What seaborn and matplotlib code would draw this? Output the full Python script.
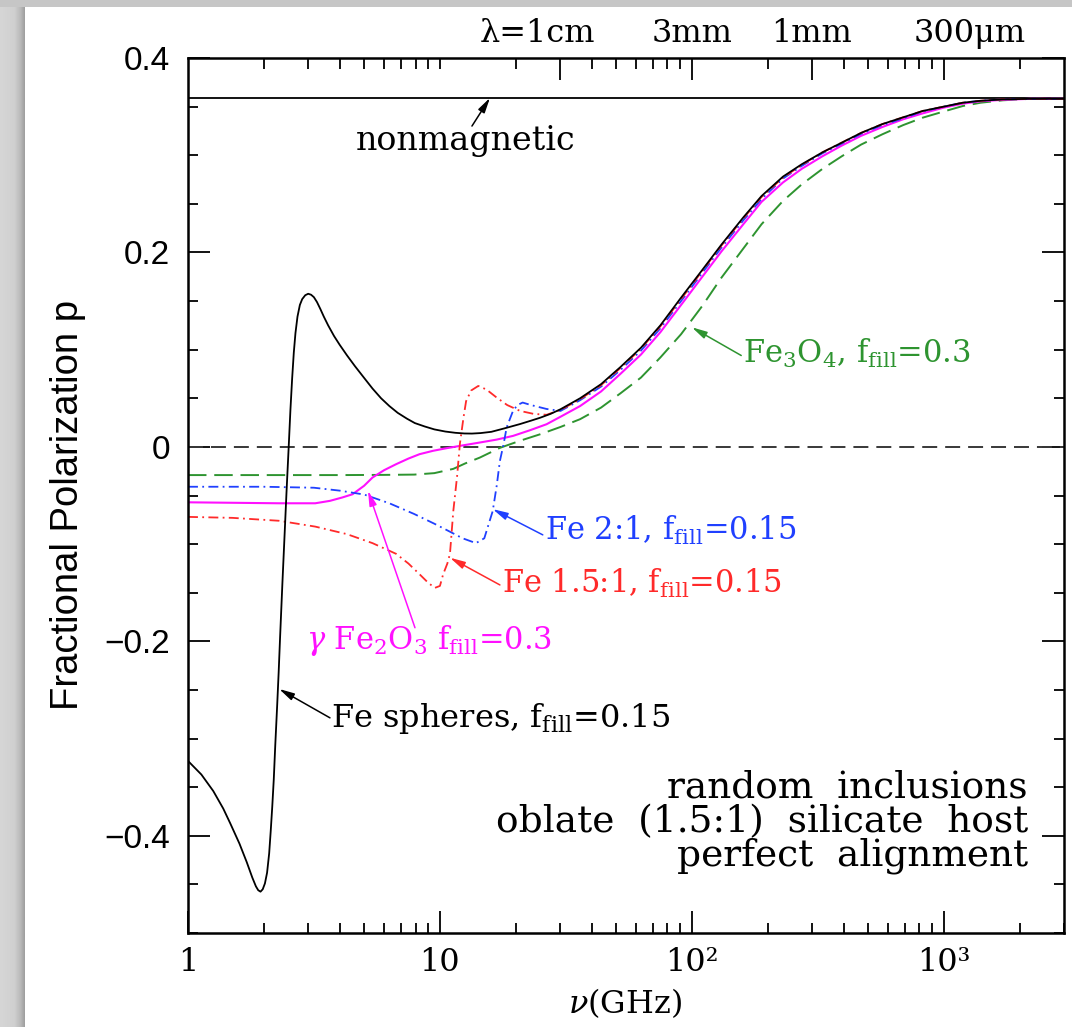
import numpy as np
import pandas as pd
import matplotlib
matplotlib.use("Agg")
import matplotlib.pyplot as plt
from matplotlib.patches import Rectangle
from matplotlib.ticker import FixedLocator, FixedFormatter, LogLocator, MultipleLocator, NullFormatter
import seaborn as sns

# ---------------- data: frequency (GHz) and fractional polarization ----------------
nu_nonmag = [1.0, 3000.0]
p_nonmag = [0.359, 0.359]

nu_fe_sph = [1.0, 1.13, 1.26, 1.38, 1.47, 1.6, 1.71, 1.8, 1.86, 1.9, 1.94, 1.98, 2.02,
             2.06, 2.10, 2.13, 2.16, 2.19, 2.22, 2.26, 2.29, 2.32, 2.37, 2.42, 2.46, 2.51,
             2.55, 2.59, 2.63, 2.67, 2.72, 2.78, 2.84, 2.92, 3.0, 3.08, 3.16, 3.25, 3.35,
             3.46, 3.6, 3.8, 4.0, 4.28, 4.6, 5.0, 5.4, 5.84, 6.3, 6.8, 7.4, 7.95, 8.7, 9.5,
             10.5, 11.5, 12.5, 13.4, 14.5, 16.0, 18.0, 20.8, 23.0, 25.0, 27.5, 30.1, 36.0,
             43.6, 52.0, 62.8, 75.0, 90.6, 110.0, 131.0, 160.0, 189.0, 230.0, 273.0, 330.0,
             394.0, 470.0, 570.0, 690.0, 824.0, 1000.0, 1189.0, 1400.0, 1718.0, 2200.0, 3000.0]
p_fe_sph = [-0.323, -0.337, -0.354, -0.372, -0.387, -0.408, -0.427, -0.443, -0.452, -0.456,
            -0.4575, -0.455, -0.449, -0.438, -0.418, -0.395, -0.37, -0.342, -0.307, -0.265,
            -0.232, -0.196, -0.14, -0.088, -0.047, 0.0, 0.038, 0.07, 0.097, 0.117, 0.134,
            0.146, 0.152, 0.156, 0.1575, 0.1565, 0.154, 0.149, 0.142, 0.134, 0.125, 0.114,
            0.105, 0.094, 0.083, 0.071, 0.060, 0.050, 0.042, 0.035, 0.029, 0.0245, 0.021,
            0.018, 0.0158, 0.0145, 0.0138, 0.0137, 0.0142, 0.0155, 0.019, 0.0235, 0.027,
            0.030, 0.034, 0.0387, 0.050, 0.0645, 0.082, 0.102, 0.125, 0.1535, 0.182, 0.208,
            0.236, 0.258, 0.278, 0.2907, 0.303, 0.313, 0.323, 0.332, 0.339, 0.3455, 0.350,
            0.354, 0.356, 0.3575, 0.358, 0.358]

nu_fe3o4 = [1.0, 2.0, 4.0, 6.0, 7.9, 9.5, 11.3, 12.6, 14.4, 17.3, 20.9, 25.0, 30.1, 36.0,
            43.6, 52.0, 62.8, 75.0, 90.6, 110.0, 131.0, 160.0, 189.0, 230.0, 273.0, 330.0,
            394.0, 470.0, 570.0, 690.0, 824.0, 1000.0, 1189.0, 1400.0, 1718.0, 2200.0, 3000.0]
p_fe3o4 = [-0.029, -0.029, -0.029, -0.0288, -0.0285, -0.027, -0.0226, -0.017, -0.011,
           -0.001, 0.0065, 0.013, 0.0205, 0.0285, 0.0404, 0.055, 0.0713, 0.092, 0.1159,
           0.145, 0.174, 0.204, 0.229, 0.253, 0.270, 0.286, 0.299, 0.311, 0.3215, 0.331,
           0.3386, 0.345, 0.3506, 0.354, 0.3565, 0.358, 0.358]

nu_fe21 = [1.0, 2.0, 3.16, 4.0, 5.0, 6.3, 7.9, 9.5, 10.8, 12.3, 13.9, 15.0, 16.2, 16.8,
           17.3, 17.9, 18.4, 19.5, 20.3, 21.3, 23.0, 26.5, 30.1, 36.0, 43.6, 52.0, 62.8,
           75.0, 90.6, 110.0, 131.0, 160.0, 189.0, 230.0, 273.0, 330.0, 394.0, 470.0,
           570.0, 690.0, 824.0, 1000.0, 1189.0, 1400.0, 1718.0, 2200.0, 3000.0]
p_fe21 = [-0.041, -0.041, -0.042, -0.045, -0.049, -0.058, -0.069, -0.079, -0.0864, -0.094,
          -0.099, -0.094, -0.066, -0.040, -0.0144, 0.003, 0.020, 0.037, 0.043, 0.0456,
          0.043, 0.039, 0.037, 0.048, 0.062, 0.079, 0.099, 0.122, 0.150, 0.179, 0.205,
          0.233, 0.255, 0.276, 0.289, 0.302, 0.312, 0.322, 0.331, 0.338, 0.345, 0.350,
          0.354, 0.356, 0.3575, 0.358, 0.358]

nu_fe151 = [1.0, 1.5, 2.3, 3.2, 4.27, 5.4, 6.7, 7.5, 8.3, 9.0, 9.55, 10.0, 10.3, 10.7,
            10.96, 11.3, 11.7, 12.0, 12.4, 12.7, 13.3, 14.2, 15.3, 16.8, 18.5, 20.8, 23.5,
            26.5, 30.1, 36.0, 43.6, 52.0, 62.8, 75.0, 90.6, 110.0, 131.0, 160.0, 189.0,
            230.0, 273.0, 330.0, 394.0, 470.0, 570.0, 690.0, 824.0, 1000.0, 1189.0, 1400.0,
            1718.0, 2200.0, 3000.0]
p_fe151 = [-0.072, -0.073, -0.076, -0.082, -0.0897, -0.099, -0.110, -0.120, -0.131, -0.140,
           -0.145, -0.143, -0.131, -0.120, -0.110, -0.066, -0.030, 0.003, 0.030, 0.047,
           0.058, 0.0627, 0.059, 0.0507, 0.043, 0.037, 0.034, 0.033, 0.038, 0.049, 0.0635,
           0.081, 0.101, 0.124, 0.152, 0.181, 0.207, 0.235, 0.257, 0.277, 0.290, 0.303,
           0.313, 0.323, 0.332, 0.339, 0.3455, 0.350, 0.354, 0.356, 0.3575, 0.358, 0.358]

nu_gfe2o3 = [1.0, 2.3, 3.2, 3.66, 4.1, 4.5, 5.0, 5.4, 6.0, 6.7, 7.5, 8.3, 9.4, 10.6, 12.3,
             14.4, 16.8, 19.5, 22.7, 26.5, 30.1, 36.0, 43.6, 52.0, 62.8, 75.0, 90.6, 110.0,
             131.0, 160.0, 189.0, 230.0, 273.0, 330.0, 394.0, 470.0, 570.0, 690.0, 824.0,
             1000.0, 1189.0, 1400.0, 1718.0, 2200.0, 3000.0]
p_gfe2o3 = [-0.057, -0.058, -0.058, -0.0555, -0.052, -0.0487, -0.040, -0.0315, -0.024,
            -0.0178, -0.012, -0.0075, -0.004, -0.0014, 0.0015, 0.0045, 0.0075, 0.0113,
            0.017, 0.0233, 0.031, 0.042, 0.057, 0.075, 0.095, 0.118, 0.146, 0.175, 0.201,
            0.229, 0.252, 0.272, 0.286, 0.299, 0.310, 0.320, 0.329, 0.337, 0.343, 0.349,
            0.353, 0.3555, 0.357, 0.358, 0.358]

# axis ticks
x_major = [1, 10, 100, 1000]
x_major_labels = ["1", "10", "10\u00b2", "10\u00b3"]
y_major = [-0.4, -0.2, 0.0, 0.2, 0.4]
y_major_labels = ["\u22120.4", "\u22120.2", "0", "0.2", "0.4"]
lambda_mm = [10.0, 3.0, 1.0, 0.3]
lambda_labels = ["\u03bb=1cm", "3mm", "1mm", "300\u03bcm"]

# ---------------- style ----------------
sns.set_style("ticks")
plt.rcParams["font.family"] = ["DejaVu Serif"]
plt.rcParams["mathtext.fontset"] = "dejavuserif"
for key in ["text.color", "axes.labelcolor", "xtick.color", "ytick.color", "axes.edgecolor"]:
    plt.rcParams[key] = "black"

W, H = 1072, 1027
RECT = [188 / W, 1 - 933 / H, 876 / W, 875 / H]
AX_H_PX = 875.0
fig = plt.figure(figsize=(W / 100, H / 100), dpi=100)
fig.patch.set_facecolor("white")

# window-style frame: grey strip on the left with a soft shadow, thin strip on top
shade = np.interp(np.arange(25), [0, 14, 20, 24], [214, 208, 186, 160]) / 255.0
strip = np.repeat(shade[None, :, None], 3, axis=2)
fa = fig.add_axes([0, 0, 25 / W, 1])
fa.imshow(strip, aspect="auto", extent=[0, 1, 0, 1], interpolation="bilinear")
fa.set_axis_off()
fig.add_artist(Rectangle((0, 1 - 7 / H), 1, 7 / H, transform=fig.transFigure,
                         facecolor="#c6c6c6", edgecolor="none", zorder=5))

ax = fig.add_axes(RECT)
ax.set_facecolor("white")
ax.set_xscale("log")

C_GREEN = "#2e9430"
C_BLUE = "#2040ff"
C_RED = "#ff2a2a"
C_MAG = "#ff10ff"

ax.axhline(0.0, color="#383838", lw=1.4, ls=(0, (7.7, 4.1)), zorder=1)

series = [
    (nu_nonmag, p_nonmag, "black", "-", 1.3),
    (nu_fe3o4, p_fe3o4, C_GREEN, (0, (9.5, 4.0)), 1.4),
    (nu_gfe2o3, p_gfe2o3, C_MAG, "-", 1.5),
    (nu_fe21, p_fe21, C_BLUE, (0, (5.5, 2.4, 1.0, 2.4)), 1.3),
    (nu_fe151, p_fe151, C_RED, (0, (5.5, 2.4, 1.0, 2.4)), 1.3),
    (nu_fe_sph, p_fe_sph, "black", "-", 1.3),
]
for nu, p, col, ls, lw in series:
    df = pd.DataFrame({"nu": nu, "p": p})
    sns.lineplot(data=df, x="nu", y="p", ax=ax, color=col, linestyle=ls,
                 linewidth=lw, estimator=None, sort=False, legend=False)

ax.set_xlim(1, 3000)
ax.set_ylim(-0.5, 0.4)
ax.set_xlabel("")
ax.set_ylabel("")

# ticks
for s in ax.spines.values():
    s.set_linewidth(1.8)
ax.xaxis.set_major_locator(FixedLocator(x_major))
ax.xaxis.set_major_formatter(FixedFormatter(x_major_labels))
ax.xaxis.set_minor_locator(LogLocator(base=10, subs=np.arange(2, 10)))
ax.xaxis.set_minor_formatter(NullFormatter())
ax.yaxis.set_major_locator(FixedLocator(y_major))
ax.yaxis.set_major_formatter(FixedFormatter(y_major_labels))
ax.yaxis.set_minor_locator(MultipleLocator(0.05))
ax.tick_params(which="both", direction="in", top=False, right=True, width=1.3, color="black")
ax.tick_params(which="major", length=16)
ax.tick_params(which="minor", length=7.5)
ax.tick_params(axis="x", which="major", labelsize=23, pad=10)
ax.tick_params(axis="y", which="major", labelsize=24, pad=13)

# wavelength scale along the top edge: tick marks hanging down from the frame
top_major = [299.79 / lm for lm in lambda_mm]
top_minor = [v for v in LogLocator(base=10, subs=np.arange(1, 10)).tick_values(1, 3000)
             if 1 < v < 3000 and min(abs(np.log10(v) - np.log10(m)) for m in top_major) > 0.01]
xform = ax.get_xaxis_transform()
ax.vlines(top_major, 1 - 22 / AX_H_PX, 1, transform=xform, colors="black",
          linewidth=1.3, zorder=20, clip_on=False)
ax.vlines(top_minor, 1 - 10.5 / AX_H_PX, 1, transform=xform, colors="black",
          linewidth=1.3, zorder=20, clip_on=False)

top_offsets = [(25, "right"), (0, "center"), (0, "center"), (-21.5, "left")]
for xm, lab, (dx, ha) in zip(top_major, lambda_labels, top_offsets):
    ax.annotate(lab, xy=(xm, 1.0), xycoords=("data", "axes fraction"),
                xytext=(dx, 11.5), textcoords="offset points", ha=ha, va="baseline",
                fontsize=23, annotation_clip=False)

# axis titles
fig.text(68 / W, 1 - 505 / H, "Fractional Polarization p", rotation=90, ha="center",
         va="center", fontsize=27.5, family="Liberation Sans")
fig.text(625 / W, 1 - 1003 / H, r"$\nu$(GHz)", ha="center", va="center", fontsize=23)

# labelled arrows
def label(text, tip, tail, pos, color, fs=22, ha="left", va="center"):
    ax.annotate("", xy=tip, xytext=tail,
                arrowprops=dict(arrowstyle="-|>,head_length=0.9,head_width=0.22",
                                color=color, lw=1.1, shrinkA=0, shrinkB=0))
    ax.text(pos[0], pos[1], text, color=color, fontsize=fs, ha=ha, va=va)

label("nonmagnetic", (15.8, 0.359), (13.4, 0.330), (12.7, 0.315), "black", fs=24, ha="center")
label(r"Fe$_3$O$_4$, f$_{\mathrm{fill}}$=0.3", (100.0, 0.123), (157.0, 0.094),
      (160.0, 0.0956), C_GREEN)
label(r"Fe 2:1, f$_{\mathrm{fill}}$=0.15", (16.2, -0.064), (25.6, -0.0905),
      (26.1, -0.0864), C_BLUE)
label(r"Fe 1.5:1, f$_{\mathrm{fill}}$=0.15", (10.96, -0.114), (17.3, -0.142),
      (17.6, -0.14), C_RED)
label(r"$\gamma$ Fe$_2$O$_3$ f$_{\mathrm{fill}}$=0.3", (5.18, -0.045), (7.96, -0.186),
      (2.94, -0.1995), C_MAG)
label(r"Fe spheres, f$_{\mathrm{fill}}$=0.15", (2.30, -0.249), (3.66, -0.2787),
      (3.7, -0.279), "black", fs=23)

ax.text(0.9589, 0.1269, "random  inclusions\noblate  (1.5:1)  silicate  host\nperfect  alignment",
        transform=ax.transAxes, ha="right", va="center", fontsize=27, linespacing=0.93,
        multialignment="right")

ax.set_xlim(1, 3000)
ax.set_ylim(-0.5, 0.4)

fig.canvas.draw()
for lab in ax.get_yticklabels():
    lab.set_family("Liberation Sans")
fig.savefig("out.png", dpi=100, facecolor=fig.get_facecolor())
